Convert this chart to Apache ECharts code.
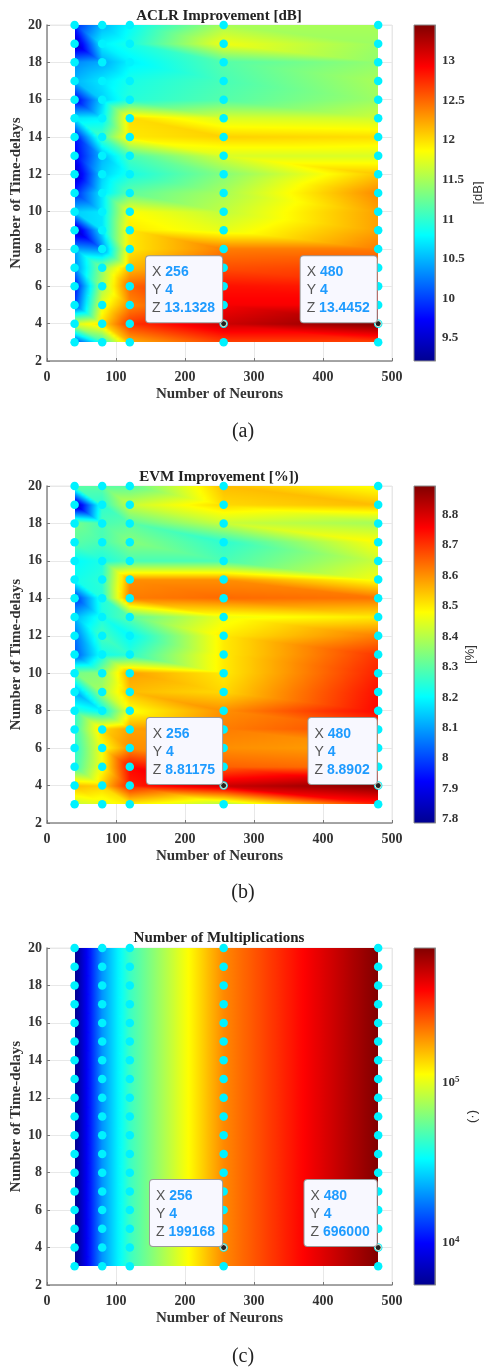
<!DOCTYPE html>
<html>
<head>
<meta charset="utf-8">
<style>html,body{margin:0;padding:0;background:#fff}#c{width:484px;height:1370px}</style>
<script src="https://cdn.jsdelivr.net/npm/echarts@6/dist/echarts.min.js"></script>
</head>
<body>
<div id="c"></div>
<script>
const neurons = [40, 80, 120, 256, 480];
const delays = [20,19,18,17,16,15,14,13,12,11,10,9,8,7,6,5,4,3];
const aclr = [
 [9.9, 10.5, 10.8, 11.5, 11.5],
 [9.4, 10.75, 10.9, 11.8, 11.45],
 [10.3, 10.45, 10.75, 11.15, 11.4],
 [10.5, 10.7, 10.9, 11.1, 11.5],
 [9.7, 10.6, 10.95, 11.15, 11.45],
 [10.7, 10.75, 12.0, 11.7, 11.65],
 [9.8, 11.1, 11.95, 12.05, 12.0],
 [9.7, 10.5, 11.1, 11.7, 11.7],
 [9.45, 10.6, 10.9, 11.35, 12.1],
 [9.9, 10.7, 11.2, 11.5, 12.35],
 [10.6, 10.7, 11.85, 11.6, 12.25],
 [9.4, 10.7, 11.95, 11.75, 12.25],
 [10.4, 10.3, 11.95, 12.4, 12.4],
 [10.3, 11.4, 12.15, 12.6, 12.65],
 [9.8, 11.5, 12.5, 12.85, 12.8],
 [10.0, 11.75, 12.35, 12.95, 12.95],
 [11.7, 12.0, 12.7, 13.1328, 13.4452],
 [10.0, 11.0, 12.2, 12.65, 12.65]
];
const evm = [
 [8.3, 8.3, 8.3, 8.55, 8.47],
 [7.82, 8.25, 8.42, 8.52, 8.55],
 [8.33, 8.28, 8.3, 8.42, 8.38],
 [8.3, 8.28, 8.35, 8.25, 8.48],
 [8.2, 8.23, 8.28, 8.28, 8.42],
 [8.22, 8.25, 8.6, 8.6, 8.47],
 [7.98, 8.24, 8.62, 8.64, 8.63],
 [8.12, 8.23, 8.3, 8.46, 8.5],
 [8.05, 8.28, 8.2, 8.5, 8.62],
 [8.02, 8.22, 8.25, 8.5, 8.7],
 [8.33, 8.35, 8.58, 8.5, 8.72],
 [8.1, 8.38, 8.55, 8.52, 8.74],
 [8.25, 8.2, 8.47, 8.6, 8.75],
 [8.27, 8.52, 8.58, 8.62, 8.68],
 [8.25, 8.47, 8.6, 8.6, 8.58],
 [8.27, 8.47, 8.75, 8.65, 8.63],
 [8.55, 8.53, 8.72, 8.81175, 8.8902],
 [8.42, 8.45, 8.5, 8.4, 8.72]
];
const multiplications = [5200, 20000, 44400, 199168, 696000];
const multRows = delays.map(() => multiplications);
const aclrTicks = [9.5,10,10.5,11,11.5,12,12.5,13];
const evmTicks = [7.8,7.9,8,8.1,8.2,8.3,8.4,8.5,8.6,8.7,8.8];
const multTicks = [1e4,1e5];
const multMinorTicks = [6000,7000,8000,9000,1e4,2e4,3e4,4e4,5e4,6e4,7e4,8e4,9e4,1e5,2e5,3e5,4e5,5e5,6e5,7e5];
const tipsA = [{x:256,y:4,z:'13.1328'},{x:480,y:4,z:'13.4452'}];
const tipsB = [{x:256,y:4,z:'8.81175'},{x:480,y:4,z:'8.8902'}];
const tipsC = [{x:256,y:4,z:'199168'},{x:480,y:4,z:'696000'}];

const SERIF = '"Liberation Serif","Times New Roman",serif';
const SANS = '"Liberation Sans",Arial,sans-serif';
const jet = [[0,[0,0,143]],[.125,[0,0,255]],[.375,[0,255,255]],[.625,[255,255,0]],[.875,[255,0,0]],[1,[128,0,0]]];
function jetColor(t){
  t=Math.max(0,Math.min(1,t));
  for(let i=1;i<jet.length;i++){
    if(t<=jet[i][0]){
      const a=jet[i-1],b=jet[i],f=(t-a[0])/(b[0]-a[0]);
      return 'rgb('+a[1].map((v,k)=>Math.round(v+(b[1][k]-v)*f)).join(',')+')';
    }
  }
  return 'rgb(128,0,0)';
}
const jetStops = jet.map(s=>({offset:1-s[0],color:'rgb('+s[1].join(',')+')'})).reverse();

const panels = [
 {title:'ACLR Improvement [dB]',rows:aclr,tips:tipsA,top:25,h:336,min:9.21,max:13.45,log:false,ticks:aclrTicks,name:'[dB]',nameGap:37,cap:'(a)',capY:432,titleY:15,
  fmt:v=>String(v)},
 {title:'EVM Improvement [%])',rows:evm,tips:tipsB,top:486,h:337,min:7.787,max:8.893,log:false,ticks:evmTicks,name:'[%]',nameGap:29,cap:'(b)',capY:893,titleY:476,
  fmt:v=>String(v)},
 {title:'Number of Multiplications',rows:multRows,tips:tipsC,top:948,h:337,min:5400,max:700000,log:true,ticks:multTicks,minor:multMinorTicks,name:'(\u00b7)',nameGap:31,cap:'(c)',capY:1357,titleY:937,
  fmt:v=>'10{sup|'+Math.round(Math.log10(v))+'}'}
];

function heatRender(p){
  const toT = p.log
    ? z=>(Math.log10(z)-Math.log10(p.min))/(Math.log10(p.max)-Math.log10(p.min))
    : z=>(z-p.min)/(p.max-p.min);
  return function(params,api){
    const xL=api.value(0),yB=api.value(1),xR=api.value(2),yT=api.value(3);
    const BL=toT(api.value(4)),BR=toT(api.value(5)),TL=toT(api.value(6)),TR=toT(api.value(7));
    const p0=api.coord([xL,yT]),p1=api.coord([xR,yB]);
    const x0=Math.round(p0[0]),x1=Math.round(p1[0]),y0=Math.round(p0[1]),y1=Math.round(p1[1]);
    const w=x1-x0,n=Math.max(6,Math.ceil(w/4)),children=[];
    for(let py=y0;py<y1;py++){
      const v=(y1-(py+.5))/(y1-y0);
      const us=[];
      for(let k=0;k<=n;k++)us.push(k/n);
      us.push(1-v);
      us.sort((a,b)=>a-b);
      const stops=us.map(u=>{
        // each quad is split into two triangles along its top-left to bottom-right diagonal
        const t=(u+v<=1)? BL+u*(BR-BL)+v*(TL-BL) : TR+(1-u)*(TL-TR)+(1-v)*(BR-TR);
        return {offset:u,color:jetColor(t)};
      });
      children.push({type:'rect',shape:{x:x0,y:py,width:w,height:1},
        style:{fill:{type:'linear',x:0,y:0,x2:1,y2:0,colorStops:stops}}});
    }
    return {type:'group',children};
  };
}

const option={animation:false,backgroundColor:'#fff',title:[],grid:[],xAxis:[],yAxis:[],series:[],graphic:[]};
const axisLab={color:'#333',fontFamily:SERIF,fontWeight:'bold',fontSize:14};
panels.forEach((p,i)=>{
  const g=i*2,b=i*2+1;
  option.title.push({text:p.title,left:219,top:p.titleY-8,textAlign:'center',
    textStyle:{fontFamily:SERIF,fontWeight:'bold',fontSize:15,color:'#222',lineHeight:18},padding:0});
  option.graphic.push({type:'text',x:243,y:p.capY,style:{text:p.cap,fontFamily:SERIF,fontSize:20,fill:'#222',textAlign:'center',textVerticalAlign:'middle'}});
  option.grid.push({left:47,width:345,top:p.top,height:p.h,show:true,borderColor:'#e8e8e8',borderWidth:1,backgroundColor:'transparent',outerBoundsMode:'none'});
  option.grid.push({left:414,width:21,top:p.top,height:p.h,show:false,outerBoundsMode:'none'});
  option.xAxis.push({gridIndex:g,type:'value',min:0,max:500,interval:100,
    name:'Number of Neurons',nameLocation:'middle',nameGap:26,nameMoveOverlap:false,
    nameTextStyle:{fontFamily:SERIF,fontWeight:'bold',fontSize:15,color:'#333'},
    axisLine:{show:true,lineStyle:{color:'#8a8a8a',width:1.5}},
    axisTick:{show:true,inside:true,length:3,lineStyle:{color:'#777'}},
    axisLabel:Object.assign({margin:9},axisLab),
    splitLine:{show:true,lineStyle:{color:'#e8e8e8',width:1}}});
  option.yAxis.push({gridIndex:g,type:'value',min:2,max:20,interval:2,
    name:'Number of Time-delays',nameLocation:'middle',nameGap:23,nameRotate:90,nameMoveOverlap:false,
    nameTextStyle:{fontFamily:SERIF,fontWeight:'bold',fontSize:15,color:'#333'},
    axisLine:{show:true,lineStyle:{color:'#8a8a8a',width:1.5}},
    axisTick:{show:true,inside:true,length:3,lineStyle:{color:'#777'}},
    axisLabel:Object.assign({margin:5},axisLab),
    splitLine:{show:true,lineStyle:{color:'#e8e8e8',width:1}}});
  option.xAxis.push({gridIndex:b,type:'value',min:0,max:1,show:false});
  option.yAxis.push({gridIndex:b,type:p.log?'log':'value',min:p.min,max:p.max,position:'right',
    name:p.name,nameLocation:'middle',nameGap:p.nameGap,nameRotate:90,
    nameTextStyle:{fontFamily:SANS,fontSize:13,color:'#333'},
    axisLine:{show:true,onZero:false,lineStyle:{color:'#8a8a8a',width:1}},
    axisTick:{show:true,inside:true,length:p.log?2:3,customValues:p.minor||p.ticks,lineStyle:{color:'#333'}},
    axisLabel:{show:true,customValues:p.ticks,formatter:p.fmt,margin:7,color:'#333',fontFamily:SERIF,fontWeight:'bold',fontSize:13,
      rich:{sup:{fontFamily:SERIF,fontWeight:'bold',fontSize:9,color:'#333',verticalAlign:'bottom',padding:[0,0,6,0]}}},
    splitLine:{show:false}});

  // interpolated surface
  const cells=[];
  for(let r=0;r<delays.length-1;r++){
    for(let c=0;c<neurons.length-1;c++){
      cells.push([neurons[c],delays[r+1],neurons[c+1],delays[r],
        p.rows[r+1][c],p.rows[r+1][c+1],p.rows[r][c],p.rows[r][c+1]]);
    }
  }
  option.series.push({type:'custom',xAxisIndex:g,yAxisIndex:g,data:cells,silent:true,clip:false,z:2,
    encode:{x:[0,2],y:[1,3]},renderItem:heatRender(p)});

  // sample points
  const pts=[];
  neurons.forEach(x=>delays.forEach(y=>pts.push([x,y])));
  option.series.push({type:'scatter',xAxisIndex:g,yAxisIndex:g,data:pts,clip:false,silent:true,z:3,
    symbol:'circle',symbolSize:8.5,itemStyle:{color:'#00f2ff',opacity:1}});

  // data tips
  option.series.push({type:'scatter',xAxisIndex:g,yAxisIndex:g,clip:false,silent:true,z:5,
    data:p.tips.map(t=>({value:[t.x,t.y],
      label:{formatter:'{k|X }{v|'+t.x+'}\n{k|Y }{v|'+t.y+'}\n{k|Z }{v|'+t.z+'}'}})),
    symbol:'circle',symbolSize:6,itemStyle:{color:'#222',borderColor:'#f4efd8',borderWidth:1,opacity:1},
    label:{show:true,position:[2,2],align:'right',verticalAlign:'bottom',backgroundColor:'#f8f8ff',
      borderColor:'#9a9a9a',borderWidth:1,borderRadius:3,padding:[7,7,5,6],
      rich:{k:{align:'left',fontFamily:SANS,fontSize:14,color:'#555',lineHeight:18},v:{align:'left',fontFamily:SANS,fontSize:14,fontWeight:'bold',color:'#1e9bff',lineHeight:18}}}});

  // colour bar
  option.series.push({type:'custom',xAxisIndex:b,yAxisIndex:b,data:[[0,p.min,1,p.max]],silent:true,z:1,
    encode:{x:[0,2],y:[1,3]},
    renderItem:(params,api)=>{
      const a=api.coord([api.value(0),api.value(3)]),c=api.coord([api.value(2),api.value(1)]);
      return {type:'rect',shape:{x:a[0],y:a[1],width:c[0]-a[0],height:c[1]-a[1]},
        style:{fill:{type:'linear',x:0,y:0,x2:0,y2:1,colorStops:jetStops},stroke:'#8a8a8a',lineWidth:1}};
    }});
});
const chart=echarts.init(document.getElementById('c'),null,{renderer:'canvas',width:484,height:1370});
chart.setOption(option);
</script>
</body>
</html>
